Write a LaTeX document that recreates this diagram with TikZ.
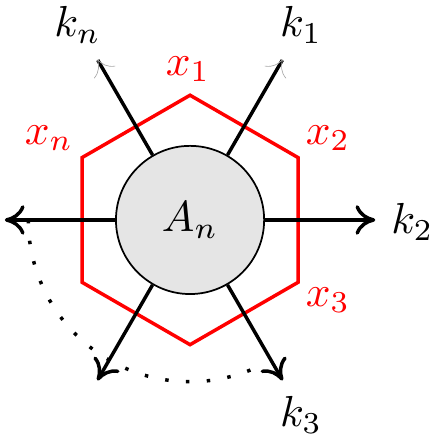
\documentclass[tikz,border=0pt]{standalone}
\usepackage{amsmath,amssymb}
\usepackage{tikz}
\usetikzlibrary{arrows.meta}
\usepackage{xcolor}

\begin{document}
\begin{tikzpicture}[
  blob/.style={draw,circle,fill=gray!20,minimum size=1.2cm,inner sep=0pt},
  hexa/.style={draw=red,thick},
  leg/.style={thick,-{To[length=1.6mm,width=2.4mm]}},
  faint/.style={thick,-{To[length=1.2mm,width=2mm,gray!70,line width=0.15pt]}},
  vlab/.style={text=red}
]
\useasboundingbox (-1.539,-1.79) rectangle (2.008,1.781);
\node[blob] (A) at (0,0) {$A_n$};
% hexagon of x labels
\draw[hexa] (90:1.01) -- (150:1.01) -- (210:1.01) -- (270:1.01) -- (330:1.01) -- (30:1.01) -- cycle;
\node[vlab] (x1) at (-0.016,1.22) {$x_1$};
\node[vlab] (x2) at (1.117,0.664) {$x_2$};
\node[vlab] (x3) at (1.117,-0.648) {$x_3$};
\node[vlab] (xn) at (-1.142,0.664) {$x_n$};
% external legs
\coordinate (en) at (120:1.5);
\coordinate (e1) at (60:1.5);
\coordinate (e2) at (0:1.5);
\coordinate (e3) at (300:1.5);
\coordinate (el) at (180:1.5);
\coordinate (eb) at (240:1.5);
\draw[faint] (A.120) -- (en);
\draw[faint] (A.60) -- (e1);
\draw[leg] (A.0) -- (e2);
\draw[leg] (A.300) -- (e3);
\draw[leg] (A.180) -- (el);
\draw[leg] (A.240) -- (eb);
\node (kn) at (-0.911,1.579) {$k_n$};
\node (k1) at (0.899,1.579) {$k_1$};
\node (k2) at (1.8,-0.016) {$k_2$};
\node (k3) at (0.899,-1.579) {$k_3$};
\draw[thick,loosely dotted] (180:1.31) arc[start angle=180,end angle=293,radius=1.31];
\end{tikzpicture}
\end{document}
